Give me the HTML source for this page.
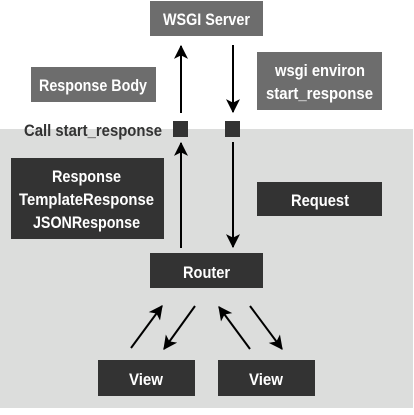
<!DOCTYPE html>
<html><head><style>
body{margin:0;width:414px;height:410px;background:#fff;overflow:hidden}
svg text{font-family:"Liberation Sans",sans-serif;font-weight:bold;font-size:17px}
</style></head><body>
<svg width="414" height="410" viewBox="0 0 414 410">
<defs>
<marker id="h" viewBox="0 0 12 12" markerWidth="16" markerHeight="14" refX="11" refY="6" orient="auto" markerUnits="userSpaceOnUse"><path d="M0,0 L12,6 L0,12 L3,6 z" fill="#000"/></marker></defs>
<rect x="0" y="129" width="413" height="279" fill="#dcdddc"/>
<rect x="150" y="1" width="113" height="35" fill="#6d6d6d"/>
<text x="163" y="25" fill="#fff" textLength="87" lengthAdjust="spacingAndGlyphs">WSGI Server</text>
<rect x="31" y="67" width="125" height="35" fill="#6d6d6d"/>
<text x="39" y="91" fill="#fff" textLength="108" lengthAdjust="spacingAndGlyphs">Response Body</text>
<rect x="257" y="52" width="125" height="58" fill="#6d6d6d"/>
<text x="275" y="76" fill="#fff" textLength="90" lengthAdjust="spacingAndGlyphs">wsgi environ</text>
<text x="266" y="99" fill="#fff" textLength="107" lengthAdjust="spacingAndGlyphs">start_response</text>
<text x="24" y="136" fill="#333" textLength="138" lengthAdjust="spacingAndGlyphs">Call start_response</text>
<rect x="173" y="121" width="15" height="16" fill="#333"/>
<rect x="225" y="121" width="15" height="16" fill="#333"/>
<rect x="11" y="158" width="153" height="81" fill="#333"/>
<text x="52" y="182" fill="#fff" textLength="69" lengthAdjust="spacingAndGlyphs">Response</text>
<text x="19" y="205" fill="#fff" textLength="135" lengthAdjust="spacingAndGlyphs">TemplateResponse</text>
<text x="33" y="228" fill="#fff" textLength="107" lengthAdjust="spacingAndGlyphs">JSONResponse</text>
<rect x="257" y="182" width="125" height="34" fill="#333"/>
<text x="291" y="206" fill="#fff" textLength="58" lengthAdjust="spacingAndGlyphs">Request</text>
<rect x="150" y="253" width="113" height="35" fill="#333"/>
<text x="183" y="278" fill="#fff" textLength="47" lengthAdjust="spacingAndGlyphs">Router</text>
<rect x="98" y="360" width="97" height="36" fill="#333"/>
<text x="129" y="385" fill="#fff" textLength="34" lengthAdjust="spacingAndGlyphs">View</text>
<rect x="218" y="360" width="97" height="36" fill="#333"/>
<text x="249" y="385" fill="#fff" textLength="34" lengthAdjust="spacingAndGlyphs">View</text>
<g stroke="#000" stroke-width="2" fill="none">
<line x1="181" y1="113" x2="181" y2="46" marker-end="url(#h)"/>
<line x1="233" y1="45" x2="233" y2="112" marker-end="url(#h)"/>
<line x1="181" y1="248" x2="181" y2="143" marker-end="url(#h)"/>
<line x1="233" y1="142" x2="233" y2="247" marker-end="url(#h)"/>
<line x1="131" y1="348" x2="162" y2="306" marker-end="url(#h)"/>
<line x1="195" y1="306" x2="164" y2="349" marker-end="url(#h)"/>
<line x1="250" y1="349" x2="219" y2="307" marker-end="url(#h)"/>
<line x1="250" y1="306" x2="282" y2="349" marker-end="url(#h)"/>
</g>
</svg>
</body></html>
